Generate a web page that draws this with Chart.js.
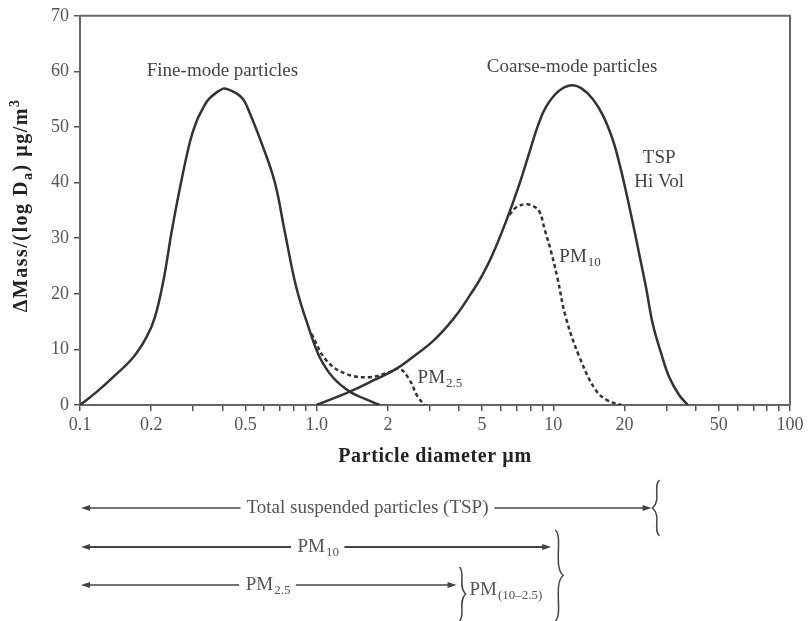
<!DOCTYPE html>
<html>
<head>
<meta charset="utf-8">
<script src="https://cdn.jsdelivr.net/npm/chart.js@4.4.0/dist/chart.umd.min.js"></script>
<style>
    html, body { margin: 0; padding: 0; background: #fff; }
    #wrap { width: 809px; height: 621px; }
</style>
</head>
<body>
<div id="wrap"><canvas id="myChart"></canvas></div>
<script>
    // particle diameter (µm) and ΔMass/(log Da)
    var fineX = [0.1, 0.118, 0.138, 0.168, 0.191, 0.207, 0.225, 0.244, 0.264, 0.291, 0.31, 0.331, 0.35, 0.38, 0.403, 0.42, 0.46, 0.489, 0.51, 0.584, 0.665, 0.733, 0.821, 0.934, 1.03, 1.17, 1.38, 1.6, 1.85];
    var fineY = [0, 2.4, 5.0, 8.6, 12.2, 15.7, 22.3, 31.2, 38.9, 47.2, 50.9, 53.4, 55.0, 56.3, 56.9, 56.8, 56.0, 55.0, 53.5, 47.2, 40.1, 31.2, 21.1, 13.4, 8.6, 5.0, 2.4, 1.1, 0];

    var coarseX = [1.0, 1.38, 1.75, 2.17, 2.6, 3.1, 3.55, 4.01, 4.45, 4.87, 5.5, 6.31, 7.2, 7.93, 8.6, 9.31, 10.5, 11.9, 13.2, 14.7, 16.2, 17.8, 19.0, 20.3, 21.7, 23.1, 24.7, 26.3, 28.5, 30.9, 34, 37];
    var coarseY = [0, 2.4, 4.5, 6.5, 8.9, 11.5, 14.1, 16.9, 19.8, 22.4, 26.8, 33.0, 39.8, 45.5, 50.2, 53.6, 56.4, 57.5, 56.9, 55.0, 52.1, 47.8, 43.5, 38.3, 32.6, 27.0, 20.9, 14.6, 9.4, 5.0, 1.8, 0];

    var pm10X = [6.52, 7.0, 7.67, 8.2, 8.73, 9.2, 9.78, 10.4, 11.3, 12.9, 15.1, 17, 19.4];
    var pm10Y = [34.2, 35.6, 36.1, 35.8, 34.8, 31.5, 27.6, 22.9, 15.7, 8.6, 2.7, 0.8, 0];

    var pm25X = [0.95, 1.10, 1.33, 1.67, 2.03, 2.24, 2.47, 2.67, 2.86];
    var pm25Y = [12.8, 8.0, 5.6, 5.0, 5.9, 6.5, 4.5, 1.5, 0];

    var xTicks = [0.1, 0.2, 0.3, 0.4, 0.5, 0.6, 0.7, 0.8, 0.9, 1, 2, 3, 4, 5, 6, 7, 8, 9, 10, 20, 30, 40, 50, 60, 70, 80, 90, 100];
    var xTickLabels = { 0.1: "0.1", 0.2: "0.2", 0.5: "0.5", 1: "1.0", 2: "2", 5: "5", 10: "10", 20: "20", 50: "50", 100: "100" };

    // size ranges under the axis: name, where the arrow stops (µm), where the name sits (µm)
    var rangeNames = ["Total suspended particles (TSP)", "PM|10", "PM|2.5"];
    var rangeEnds = [26, 9.8, 3.9];
    var rangeTextAt = [1.64, 1.01, 0.62];

    function pts(xs, ys) {
        return xs.map(function (x, i) { return { x: x, y: ys[i] }; });
    }

    var ink = "#333";
    var grey = "#555";
    var serif = "'Liberation Serif', 'DejaVu Serif', serif";
    var fs = 19;

    function subText(ctx, base, sub, x, y, size, align) {
        ctx.font = size + "px " + serif;
        var w1 = ctx.measureText(base).width;
        ctx.font = Math.round(size * 0.7) + "px " + serif;
        var w2 = ctx.measureText(sub).width;
        var x0 = x;
        if (align == "center") x0 = x - (w1 + w2) / 2;
        ctx.textAlign = "left";
        ctx.textBaseline = "middle";
        ctx.font = size + "px " + serif;
        ctx.fillText(base, x0, y);
        ctx.font = Math.round(size * 0.7) + "px " + serif;
        ctx.fillText(sub, x0 + w1 + 1, y + size * 0.3);
        return w1 + w2 + 1;
    }

    function arrowHead(ctx, x, y, dir) {
        ctx.beginPath();
        ctx.moveTo(x, y);
        ctx.lineTo(x - dir * 9, y - 3);
        ctx.lineTo(x - dir * 9, y + 3);
        ctx.closePath();
        ctx.fill();
    }

    function brace(ctx, x, y1, y2, w) {
        var ym = (y1 + y2) / 2;
        ctx.beginPath();
        ctx.moveTo(x, y1);
        ctx.bezierCurveTo(x + w, y1 + 6, x - w * 0.3, ym - 8, x + w, ym);
        ctx.bezierCurveTo(x - w * 0.3, ym + 8, x + w, y2 - 6, x, y2);
        ctx.stroke();
    }

    var annot = {
        id: "annot",
        afterDraw: function (chart) {
            var ctx = chart.ctx;
            var xs = chart.scales.x, ys = chart.scales.y;
            var a = chart.chartArea;
            ctx.save();

            // frame top and right
            ctx.strokeStyle = "#666";
            ctx.lineWidth = 2;
            ctx.beginPath();
            ctx.moveTo(a.left, a.top);
            ctx.lineTo(a.right, a.top);
            ctx.lineTo(a.right, a.bottom);
            ctx.stroke();

            // labels in the plot
            ctx.fillStyle = "#444";
            ctx.font = fs + "px " + serif;
            ctx.textAlign = "center";
            ctx.textBaseline = "middle";
            ctx.fillText("Fine-mode particles", xs.getPixelForValue(0.4), ys.getPixelForValue(60));
            ctx.fillText("Coarse-mode particles", xs.getPixelForValue(12), ys.getPixelForValue(60.8));
            ctx.fillText("TSP", xs.getPixelForValue(28), ys.getPixelForValue(44.4));
            ctx.fillText("Hi Vol", xs.getPixelForValue(28), ys.getPixelForValue(40.1));
            subText(ctx, "PM", "10", xs.getPixelForValue(10.6), ys.getPixelForValue(26.6), fs, "left");
            subText(ctx, "PM", "2.5", xs.getPixelForValue(2.67), ys.getPixelForValue(4.8), fs, "left");

            // axis titles
            ctx.fillStyle = "#222";
            ctx.font = "bold 20px " + serif;
            ctx.textAlign = "center";
            ctx.letterSpacing = "0.6px";
            ctx.fillText("Particle diameter \u00b5m", (a.left + a.right) / 2, a.bottom + 52);

            ctx.save();
            ctx.letterSpacing = "1.5px";
            ctx.translate(22, (a.top + a.bottom) / 2 - 5);
            ctx.rotate(-Math.PI / 2);
            var p1 = "\u0394Mass/(log D", p2 = "a", p3 = ") \u00b5g/m", p4 = "3";
            ctx.font = "bold 20px " + serif;
            var w1 = ctx.measureText(p1).width, w3 = ctx.measureText(p3).width;
            ctx.font = "bold 14px " + serif;
            var w2 = ctx.measureText(p2).width, w4 = ctx.measureText(p4).width;
            var sx = -(w1 + w2 + w3 + w4) / 2;
            ctx.textAlign = "left";
            ctx.font = "bold 20px " + serif;
            ctx.fillText(p1, sx, 0);
            ctx.fillText(p3, sx + w1 + w2, 0);
            ctx.font = "bold 14px " + serif;
            ctx.fillText(p2, sx + w1, 6);
            ctx.fillText(p4, sx + w1 + w2 + w3, -7);
            ctx.restore();
            ctx.letterSpacing = "0px";

            // size range arrows
            var rowY = [a.bottom + 103, a.bottom + 142, a.bottom + 180];
            ctx.strokeStyle = "#444";
            ctx.fillStyle = "#444";
            for (var i = 0; i < rangeNames.length; i++) {
                var y = rowY[i];
                var x1 = a.left + 1;
                var x2 = xs.getPixelForValue(rangeEnds[i]);
                var tx = xs.getPixelForValue(rangeTextAt[i]);
                var parts = rangeNames[i].split("|");
                var tw;
                ctx.fillStyle = "#555";
                if (parts.length > 1) {
                    tw = subText(ctx, parts[0], parts[1], tx, y, fs, "center");
                } else {
                    ctx.font = fs + "px " + serif;
                    ctx.textAlign = "center";
                    tw = ctx.measureText(parts[0]).width;
                    ctx.fillText(parts[0], tx, y);
                }
                ctx.fillStyle = "#444";
                ctx.lineWidth = i == 1 ? 2 : 1.5;
                ctx.beginPath();
                ctx.moveTo(x1 + 4, y);
                ctx.lineTo(tx - tw / 2 - 6, y);
                ctx.moveTo(tx + tw / 2 + 6, y);
                ctx.lineTo(x2 - 4, y);
                ctx.stroke();
                arrowHead(ctx, x1, y, -1);
                arrowHead(ctx, x2, y, 1);
            }

            ctx.lineWidth = 1.5;
            ctx.strokeStyle = "#444";
            brace(ctx, xs.getPixelForValue(rangeEnds[0]) + 8, rowY[0] - 28, rowY[0] + 28, -7);
            brace(ctx, xs.getPixelForValue(rangeEnds[1]) + 4, rowY[1] - 17, rowY[2] + 36, 8);
            brace(ctx, xs.getPixelForValue(rangeEnds[2]) + 3, rowY[2] - 18, rowY[2] + 36, 6);
            ctx.fillStyle = "#555";
            subText(ctx, "PM", "(10\u20132.5)", xs.getPixelForValue(rangeEnds[2]) + 13, rowY[2] + 5, fs, "left");

            ctx.restore();
        }
    };

    function lineSet(xs, ys, dashed) {
        return {
            data: pts(xs, ys),
            borderColor: ink,
            borderWidth: 2.5,
            borderDash: dashed ? [4, 3] : [],
            pointRadius: 0,
            fill: false,
            tension: 0.4
        };
    }

    new Chart("myChart", {
        type: "line",
        data: {
            datasets: [
                lineSet(fineX, fineY, false),
                lineSet(coarseX, coarseY, false),
                lineSet(pm10X, pm10Y, true),
                lineSet(pm25X, pm25Y, true)
            ]
        },
        options: {
            responsive: true,
            maintainAspectRatio: false,
            animation: false,
            layout: { padding: { left: 0, right: 19, top: 12, bottom: 180 } },
            plugins: { legend: { display: false }, tooltip: { enabled: false } },
            scales: {
                x: {
                    type: "logarithmic",
                    min: 0.1,
                    max: 100,
                    afterBuildTicks: function (s) {
                        s.ticks = xTicks.map(function (v) { return { value: v }; });
                    },
                    afterFit: function (s) { s.height = 36; },
                    ticks: {
                        autoSkip: false,
                        maxRotation: 0,
                        color: grey,
                        font: { family: serif, size: 18 },
                        padding: 3,
                        callback: function (v) { return xTickLabels[v] || ""; }
                    },
                    grid: { drawOnChartArea: false, drawTicks: true, tickLength: 6, color: "#555", lineWidth: 1.5 },
                    border: { color: "#666", width: 2 }
                },
                y: {
                    min: 0,
                    max: 70,
                    afterFit: function (s) { s.width = 80; },
                    ticks: {
                        stepSize: 10,
                        color: grey,
                        font: { family: serif, size: 18 },
                        padding: 5
                    },
                    grid: { drawOnChartArea: false, drawTicks: true, tickLength: 6, color: "#555", lineWidth: 1.5 },
                    border: { color: "#666", width: 2 }
                }
            }
        },
        plugins: [annot]
    });
</script>
</body>
</html>
